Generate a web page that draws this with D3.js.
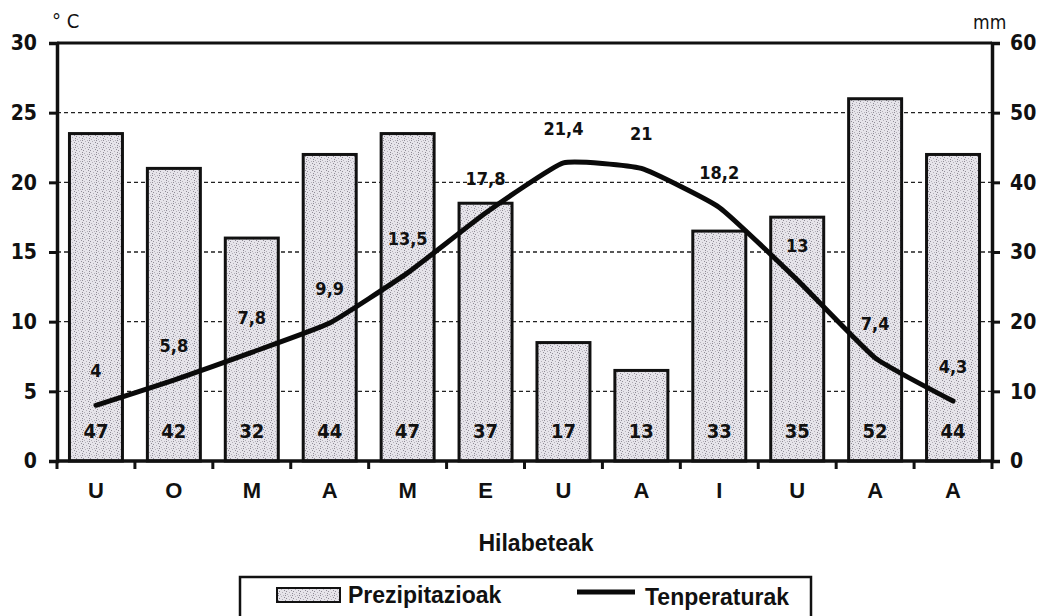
<!DOCTYPE html>
<html>
<head>
<meta charset="utf-8">
<script src="https://cdn.jsdelivr.net/npm/d3@7"></script>
<style>
  body { margin: 0; background: #fff; }
  text { fill: #111; }
</style>
</head>
<body>
<svg id="chart" width="1041" height="616"></svg>
<script>
// data
const months = ["U", "O", "M", "A", "M", "E", "U", "A", "I", "U", "A", "A"];
const precip = [47, 42, 32, 44, 47, 37, 17, 13, 33, 35, 52, 44];
const temps = [4, 5.8, 7.8, 9.9, 13.5, 17.8, 21.4, 21, 18.2, 13, 7.4, 4.3];
const tempTicks = [0, 5, 10, 15, 20, 25, 30];
const precipTicks = [0, 10, 20, 30, 40, 50, 60];

const svg = d3.select("#chart");
const plotL = 57, plotR = 992, plotT = 43, plotB = 461;
const numFont = "'DejaVu Sans Condensed', 'DejaVu Sans', sans-serif";
const txtFont = "'Liberation Sans', Arial, sans-serif";

const x = d3.scaleBand().domain(d3.range(months.length)).range([plotL, plotR]).paddingInner(0.32).paddingOuter(0.16);
const xb = d3.scaleBand().domain(d3.range(months.length)).range([plotL, plotR]);
const yT = d3.scaleLinear().domain([0, 30]).range([plotB, plotT]);
const yP = d3.scaleLinear().domain([0, 60]).range([plotB, plotT]);

// stipple pattern for the bars
const defs = svg.append("defs");
const pat = defs.append("pattern").attr("id", "stip")
  .attr("patternUnits", "userSpaceOnUse").attr("width", 7).attr("height", 7);
pat.append("rect").attr("width", 7).attr("height", 7).attr("fill", "#e6e4ea");
[[1,1],[4,2],[2,4],[5,5],[0,6],[6,3],[3,0],[5,0]].forEach(([a,b], i) => {
  pat.append("rect").attr("x", a).attr("y", b).attr("width", 1).attr("height", 1)
    .attr("fill", i % 2 ? "#8f8b96" : "#b3afb8");
});

// dotted grid
svg.append("g").selectAll("line")
  .data(tempTicks.filter(d => d > 0 && d < 30))
  .enter().append("line")
  .attr("x1", plotL).attr("x2", plotR)
  .attr("y1", d => yT(d)).attr("y2", d => yT(d))
  .attr("stroke", "#222").attr("stroke-width", 1.4).attr("stroke-dasharray", "4,3");

// bars
svg.append("g").selectAll("rect")
  .data(precip)
  .enter().append("rect")
  .attr("x", (d, i) => x(i))
  .attr("y", d => yP(d))
  .attr("width", x.bandwidth())
  .attr("height", d => plotB - yP(d))
  .attr("fill", "url(#stip)")
  .attr("stroke", "#111").attr("stroke-width", 3);

// precipitation values inside bars
svg.append("g").selectAll("text")
  .data(precip)
  .enter().append("text")
  .attr("x", (d, i) => xb(i) + xb.bandwidth() / 2)
  .attr("y", plotB - 23)
  .attr("text-anchor", "middle")
  .style("font", `bold 20px ${numFont}`)
  .attr("fill", "#222")
  .text(d => d);

// frame: top line, left/right axes, bottom axis
svg.append("line").attr("x1", plotL).attr("x2", plotR).attr("y1", plotT).attr("y2", plotT)
  .attr("stroke", "#111").attr("stroke-width", 3);

const gl = svg.append("g").attr("transform", `translate(${plotL},0)`)
  .call(d3.axisLeft(yT).tickValues(tempTicks).tickSize(8).tickPadding(12));
const gr = svg.append("g").attr("transform", `translate(${plotR},0)`)
  .call(d3.axisRight(yP).tickValues(precipTicks).tickSize(8).tickPadding(10));
[gl, gr].forEach(g => {
  g.select(".domain").attr("stroke", "#111").attr("stroke-width", 3.5);
  g.selectAll(".tick line").attr("stroke", "#111").attr("stroke-width", 3);
  g.selectAll(".tick text").style("font", `bold 21px ${numFont}`).attr("fill", "#222");
});

// bottom axis with ticks at band edges
const gb = svg.append("g");
gb.append("line").attr("x1", plotL).attr("x2", plotR).attr("y1", plotB).attr("y2", plotB)
  .attr("stroke", "#111").attr("stroke-width", 3.5);
gb.selectAll("line.t").data(d3.range(months.length + 1)).enter().append("line")
  .attr("class", "t")
  .attr("x1", i => plotL + i * xb.step()).attr("x2", i => plotL + i * xb.step())
  .attr("y1", plotB).attr("y2", plotB + 8)
  .attr("stroke", "#111").attr("stroke-width", 3);
gb.selectAll("text").data(months).enter().append("text")
  .attr("x", (d, i) => xb(i) + xb.bandwidth() / 2)
  .attr("y", plotB + 37)
  .attr("text-anchor", "middle")
  .style("font", `bold 22px ${txtFont}`)
  .text(d => d);

// temperature line
const line = d3.line()
  .x((d, i) => xb(i) + xb.bandwidth() / 2)
  .y(d => yT(d))
  .curve(d3.curveCardinal.tension(0.6));
svg.append("path").datum(temps)
  .attr("d", line)
  .attr("fill", "none").attr("stroke", "#0a0a0a")
  .attr("stroke-width", 5).attr("stroke-linejoin", "round").attr("stroke-linecap", "round");

// temperature labels
svg.append("g").selectAll("text")
  .data(temps)
  .enter().append("text")
  .attr("x", (d, i) => xb(i) + xb.bandwidth() / 2)
  .attr("y", d => yT(d) - 28)
  .attr("text-anchor", "middle")
  .style("font", `bold 18px ${numFont}`)
  .attr("fill", "#222")
  .text(d => String(d).replace(".", ","));

// unit labels
svg.append("text").attr("x", 52).attr("y", 28)
  .style("font", `20px ${numFont}`).text("° C");
svg.append("text").attr("x", 973).attr("y", 29)
  .style("font", `19px ${numFont}`).text("mm");

// axis title
svg.append("text").attr("x", 536).attr("y", 551).attr("text-anchor", "middle")
  .style("font", `bold 23px ${txtFont}`).text("Hilabeteak");

// legend
const lg = svg.append("g");
lg.append("rect").attr("x", 240).attr("y", 577).attr("width", 571).attr("height", 50)
  .attr("fill", "#fff").attr("stroke", "#111").attr("stroke-width", 2.5);
lg.append("rect").attr("x", 277).attr("y", 588).attr("width", 63).attr("height", 14)
  .attr("fill", "url(#stip)").attr("stroke", "#111").attr("stroke-width", 2);
lg.append("text").attr("x", 348).attr("y", 603)
  .style("font", `bold 23px ${txtFont}`).text("Prezipitazioak");
lg.append("line").attr("x1", 577).attr("x2", 635).attr("y1", 592).attr("y2", 592)
  .attr("stroke", "#0a0a0a").attr("stroke-width", 5);
lg.append("text").attr("x", 645).attr("y", 605)
  .style("font", `bold 23px ${txtFont}`).text("Tenperaturak");
</script>
</body>
</html>
